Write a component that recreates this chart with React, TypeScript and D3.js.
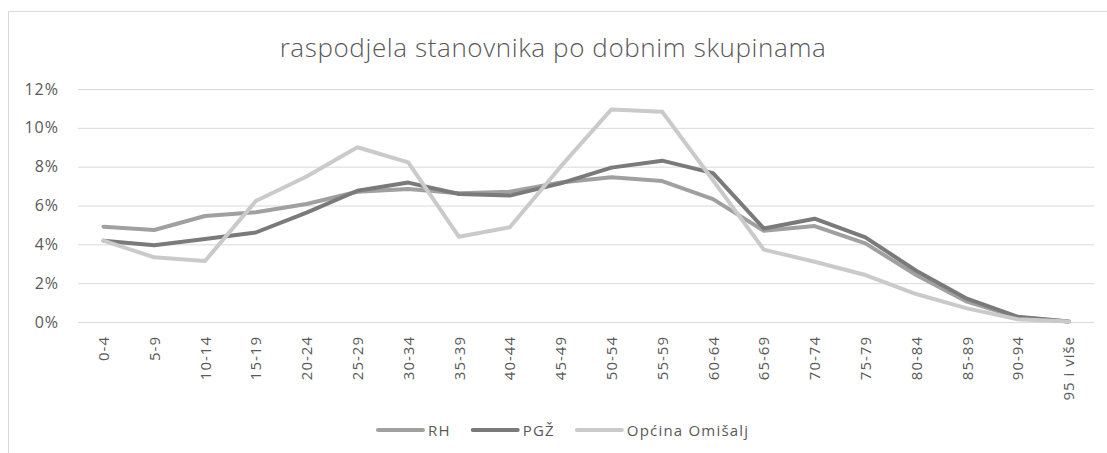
import React, { useEffect, useRef } from "react";
import * as d3 from "d3";

const categories = [
  "0-4", "5-9", "10-14", "15-19", "20-24", "25-29", "30-34", "35-39", "40-44", "45-49",
  "50-54", "55-59", "60-64", "65-69", "70-74", "75-79", "80-84", "85-89", "90-94", "95 i više",
];
const rhValues = [4.91, 4.74, 5.46, 5.65, 6.08, 6.71, 6.85, 6.63, 6.71, 7.18, 7.45, 7.26, 6.33, 4.7, 4.94, 4.05, 2.42, 1.05, 0.24, 0.03];
const pgzValues = [4.19, 3.95, 4.27, 4.61, 5.63, 6.76, 7.18, 6.59, 6.51, 7.14, 7.95, 8.31, 7.67, 4.82, 5.32, 4.36, 2.64, 1.2, 0.27, 0.03];
const omisaljValues = [4.19, 3.33, 3.14, 6.23, 7.49, 9.0, 8.22, 4.39, 4.88, 8.0, 10.95, 10.83, 7.3, 3.73, 3.1, 2.42, 1.44, 0.7, 0.14, 0.02];
const yTicks = [0, 2, 4, 6, 8, 10, 12];
const seriesNames = ["RH", "PGŽ", "Općina Omišalj"];
const seriesColors = ["#a0a0a0", "#7a7a7a", "#cacaca"];
const title = "raspodjela stanovnika po dobnim skupinama";

const W = 1107;
const H = 453;
const FONT = "'Open Sans', sans-serif";
const TEXT = "#595959";

function App() {
  const svgRef = useRef(null);

  useEffect(() => {
    const svg = d3.select(svgRef.current);
    svg.selectAll("*").remove();

    const x = d3.scalePoint().domain(categories).range([103.4, 1068.6]);
    const y = d3.scaleLinear().domain([0, 12]).range([322, 89]);

    // chart frame
    svg
      .append("rect")
      .attr("x", 8.5)
      .attr("y", 11.5)
      .attr("width", 1200)
      .attr("height", 600)
      .attr("fill", "#fff")
      .attr("stroke", "#d9d9d9");

    // title
    svg
      .append("text")
      .attr("x", 553)
      .attr("y", 57)
      .attr("text-anchor", "middle")
      .style("font-family", FONT)
      .style("font-size", "26px")
      .style("font-weight", 300)
      .style("letter-spacing", "0.6px")
      .attr("fill", TEXT)
      .text(title);

    // grid + y labels
    const yAxis = d3
      .axisLeft(y)
      .tickValues(yTicks)
      .tickSize(-(1094 - 78))
      .tickPadding(19)
      .tickFormat((d) => `${d}%`);
    svg
      .append("g")
      .attr("transform", "translate(78,0)")
      .call(yAxis)
      .call((g) => g.select(".domain").remove())
      .call((g) => g.selectAll(".tick line").attr("stroke", "#d9d9d9").attr("stroke-width", 1))
      .call((g) =>
        g
          .selectAll(".tick text")
          .attr("fill", TEXT)
          .style("font-family", FONT)
          .style("font-size", "16px")
          .style("letter-spacing", "1px")
      );

    // x labels
    svg
      .append("g")
      .selectAll("text")
      .data(categories)
      .join("text")
      .attr("transform", (d) => `translate(${x(d)! + 5.5},336) rotate(-90)`)
      .attr("text-anchor", "end")
      .attr("fill", TEXT)
      .style("font-family", FONT)
      .style("font-size", "15px")
      .style("letter-spacing", "1px")
      .text((d) => d);

    // lines
    const allSeries = [rhValues, pgzValues, omisaljValues];
    const line = d3
      .line<number>()
      .x((_, i) => x(categories[i])!)
      .y((d) => y(d));
    svg
      .append("g")
      .selectAll("path")
      .data(allSeries)
      .join("path")
      .attr("d", (d) => line(d))
      .attr("fill", "none")
      .attr("stroke", (_, i) => seriesColors[i])
      .attr("stroke-width", 4)
      .attr("stroke-linejoin", "round")
      .attr("stroke-linecap", "round");

    // legend
    const legend = svg.append("g");
    let cx = 378;
    seriesNames.forEach((name, i) => {
      legend
        .append("line")
        .attr("x1", cx)
        .attr("x2", cx + 45)
        .attr("y1", 430)
        .attr("y2", 430)
        .attr("stroke", seriesColors[i])
        .attr("stroke-width", 4)
        .attr("stroke-linecap", "round");
      const t = legend
        .append("text")
        .attr("x", cx + 50)
        .attr("y", 435.5)
        .attr("fill", TEXT)
        .style("font-family", FONT)
        .style("font-size", "15px")
        .style("letter-spacing", "1.2px")
        .text(name);
      const w = (t.node() as SVGTextElement).getComputedTextLength();
      cx = cx + 50 + w + 22;
    });
  }, []);

  return (
    <svg
      ref={svgRef}
      width={W}
      height={H}
      style={{ position: "absolute", left: 0, top: 0, background: "#fff" }}
    />
  );
}

export default App;
